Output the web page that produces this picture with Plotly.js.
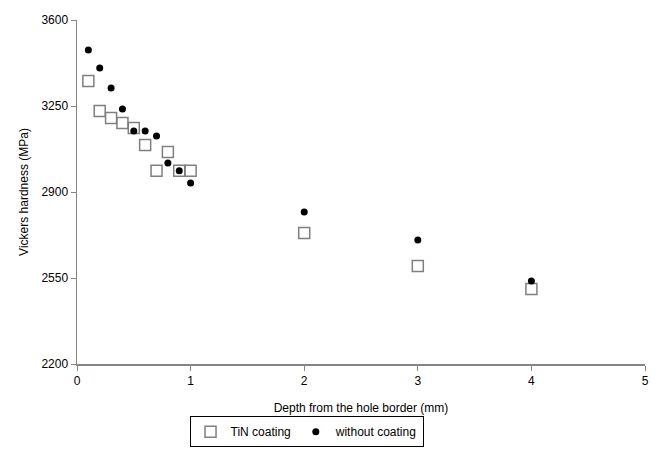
<!DOCTYPE html>
<html>
<head>
<meta charset="utf-8">
<script src="https://cdn.plot.ly/plotly-3.0.1.min.js"></script>
<style>html,body{margin:0;padding:0;background:#fff;}#chart{width:655px;height:449px;}</style>
</head>
<body>
<div id="chart"></div>
<script>
const depth = [0.1, 0.2, 0.3, 0.4, 0.5, 0.6, 0.7, 0.8, 0.9, 1.0, 2, 3, 4];
const tinCoating = [3352, 3230, 3201, 3181, 3160, 3091, 2986, 3063, 2986, 2986, 2733, 2599, 2505];
const withoutCoating = [3478, 3405, 3323, 3238, 3148, 3148, 3128, 3018, 2986, 2937, 2819, 2705, 2538];
const seriesNames = ["TiN coating", "without coating"];
const yTicks = [2200, 2550, 2900, 3250, 3600];
const xTicks = [0, 1, 2, 3, 4, 5];

const font = {family: "Liberation Sans, Arial, sans-serif", size: 12, color: "#000"};
const data = [
  {x: depth, y: tinCoating, name: seriesNames[0], mode: "markers", type: "scatter",
   marker: {symbol: "square-open", size: 11, color: "#7f7f7f", line: {width: 1.5, color: "#7f7f7f"}}},
  {x: depth, y: withoutCoating, name: seriesNames[1], mode: "markers", type: "scatter",
   marker: {symbol: "circle", size: 7, color: "#000"}}
];
const layout = {
  width: 655, height: 449,
  margin: {l: 77, r: 10, t: 20, b: 85},
  paper_bgcolor: "#fff", plot_bgcolor: "#fff",
  font: font,
  showlegend: true,
  legend: {orientation: "h", xref: "container", yref: "container",
           x: 0.468, xanchor: "center", y: 0.004, yanchor: "bottom",
           bordercolor: "#000", borderwidth: 1, font: font, itemwidth: 30, tracegroupgap: 0},
  xaxis: {range: [0, 5], tickvals: xTicks, showgrid: false, zeroline: false,
          showline: true, linecolor: "#868686", linewidth: 1.5, ticks: "outside", ticklen: 5,
          tickcolor: "#868686", tickfont: font, automargin: false,
          title: {text: "Depth from the hole border (mm)", font: font, standoff: 16}},
  yaxis: {range: [2200, 3600], tickvals: yTicks, showgrid: false, zeroline: false,
          showline: true, linecolor: "#868686", linewidth: 1.5, ticks: "outside", ticklen: 5,
          tickcolor: "#868686", tickfont: font, automargin: false,
          title: {text: "Vickers hardness (MPa)", font: font, standoff: 10}}
};
Plotly.newPlot("chart", data, layout, {displayModeBar: false, staticPlot: true});
</script>
</body>
</html>
